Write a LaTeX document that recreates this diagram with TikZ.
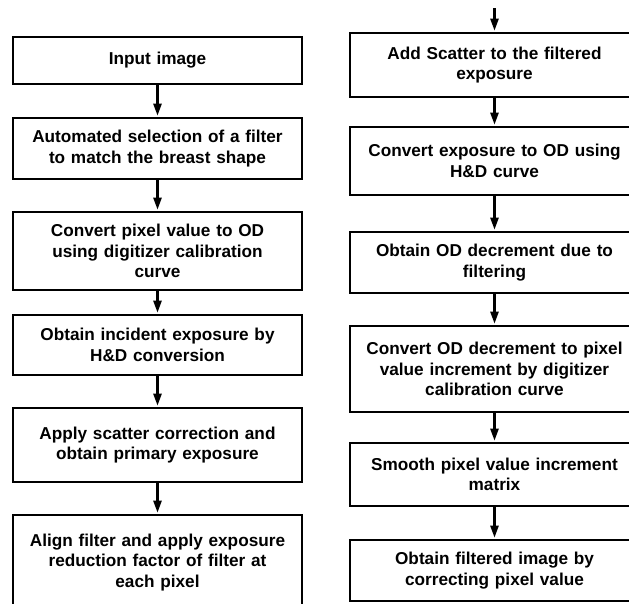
\documentclass[tikz,border=0pt]{standalone}
\usepackage{fontspec}
\setmainfont{Liberation Sans}
\usetikzlibrary{arrows.meta}
\tikzset{
  stepbox/.style={draw, line width=2.6pt, minimum width=289pt, text width=282pt,
    align=center, inner sep=0pt, font=\fontsize{17.2}{20.5}\selectfont\bfseries},
  flow/.style={-{Triangle[length=12pt,width=8pt]}, line width=2.4pt, shorten >=1pt}
}
\begin{document}
\begin{tikzpicture}[x=1pt,y=-1pt]
            \useasboundingbox (0,0) rectangle (629,603);
            \clip (0,0) rectangle (629,603);
            % left column
            \node[stepbox, minimum height=47pt] (L1) at (157.5,60.5){Input image};
            \node[stepbox, minimum height=61pt] (L2) at (157.5,148.5){Automated selection of a filter\\to match the breast shape};
            \node[stepbox, minimum height=78pt] (L3) at (157.5,251){Convert pixel value to OD\\using digitizer calibration\\curve};
            \node[stepbox, minimum height=60pt] (L4) at (157.5,345){Obtain incident exposure by\\H\&D conversion};
            \node[stepbox, minimum height=74pt] (L5) at (157.5,445){Apply scatter correction and\\obtain primary exposure};
            \node[stepbox, minimum height=95pt] (L6) at (157.5,562.5){Align filter and apply exposure\\reduction factor of filter at\\each pixel};
            % right column
            \coordinate (R0) at (494.5,8);
            \node[stepbox, minimum height=64pt] (R1) at (494.5,65){Add Scatter to the filtered\\exposure};
            \node[stepbox, minimum height=68pt] (R2) at (494.5,161){Convert exposure to OD using\\H\&D curve};
            \node[stepbox, minimum height=61pt] (R3) at (494.5,262.5){Obtain OD decrement due to\\filtering};
            \node[stepbox, minimum height=86pt] (R4) at (494.5,369){Convert OD decrement to pixel\\value increment by digitizer\\calibration curve};
            \node[stepbox, minimum height=63pt] (R5) at (494.5,474.5){Smooth pixel value increment\\matrix};
            \node[stepbox, minimum height=61pt] (R6) at (494.5,570.5){Obtain filtered image by\\correcting pixel value};
            % arrows
            \draw[flow] (L1) -- (L2);
            \draw[flow] (L2) -- (L3);
            \draw[flow] (L3) -- (L4);
            \draw[flow] (L4) -- (L5);
            \draw[flow] (L5) -- (L6);
            \draw[flow] (R0) -- (R1);
            \draw[flow] (R1) -- (R2);
            \draw[flow] (R2) -- (R3);
            \draw[flow] (R3) -- (R4);
            \draw[flow] (R4) -- (R5);
            \draw[flow] (R5) -- (R6);
        \end{tikzpicture}
\end{document}
